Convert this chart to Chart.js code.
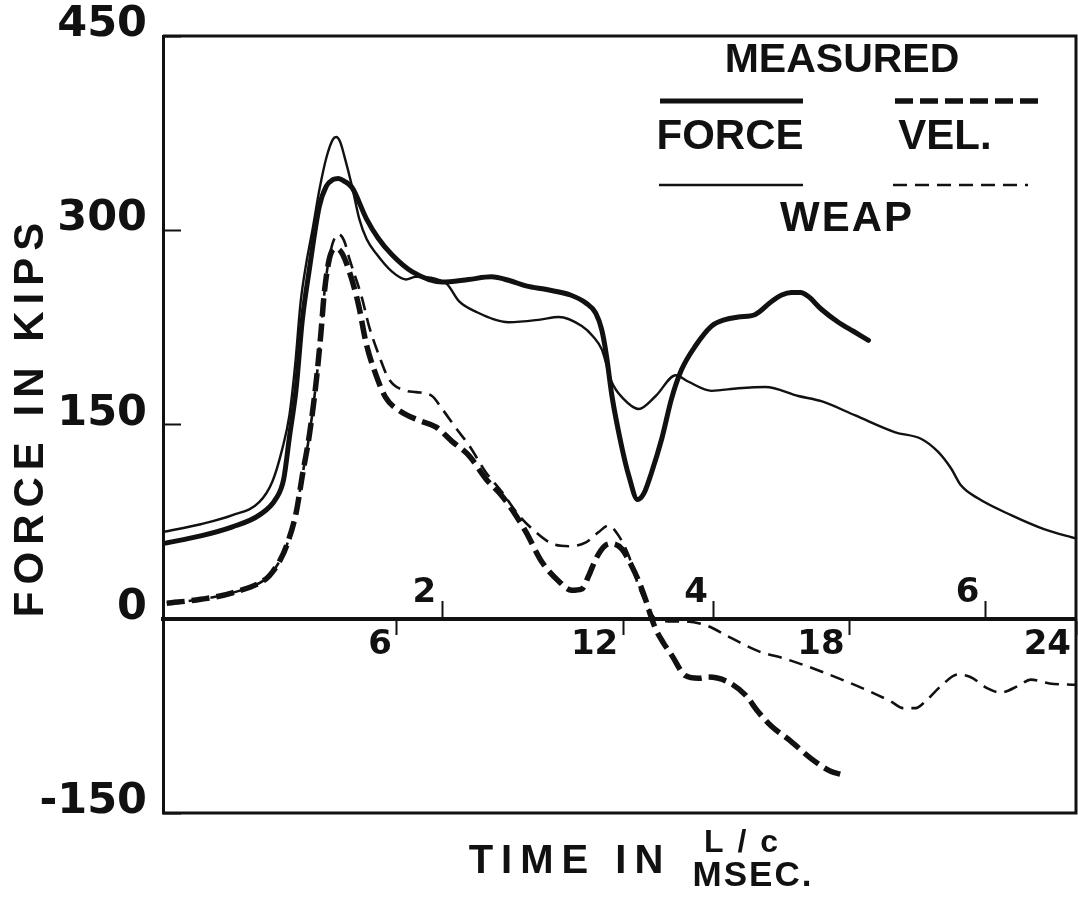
<!DOCTYPE html>
<html>
<head>
<meta charset="utf-8">
<title>Force and velocity vs time</title>
<script src="https://cdn.jsdelivr.net/npm/chart.js@4.4.1/dist/chart.umd.min.js"></script>
<style>
  html, body { margin: 0; padding: 0; background: #fff; }
  #wrap { width: 1078px; height: 918px; position: relative; }
</style>
</head>
<body>
<div id="wrap"><canvas id="grafico"></canvas></div>
<script>
// one L/c expressed in milliseconds
const MS_PER_LC = 3.6;
const X_MIN = -0.2;
const X_MAX = 24;

const yTicks = [-150, 0, 150, 300, 450];
const msTicks = [6, 12, 18, 24];
const lcTicks = [2, 4, 6];

// measured force (kips) against time (ms)
const forceMeasT = [-0.2, 0.8, 1.64, 2.35, 2.8, 3.0, 3.15, 3.33, 3.49, 3.68, 3.94, 4.13, 4.3, 4.45, 4.6, 4.81, 5.19, 5.5, 5.87, 6.4, 7.2, 7.9, 8.5, 9.0, 9.42, 10.0, 10.6, 11.0, 11.27, 11.43, 11.55, 11.7, 11.95, 12.15, 12.38, 12.55, 12.75, 13.02, 13.28, 13.54, 13.92, 14.34, 14.7, 15.05, 15.5, 15.93, 16.2, 16.46, 16.7, 16.9, 17.25, 17.7, 18.1, 18.5];
const forceMeas = [58, 64, 71, 80, 93, 108, 140, 178, 230, 270, 318, 334, 339, 340, 338, 333, 309, 294, 281, 268, 260, 262, 264, 261, 257, 254, 250, 244, 236, 223, 204, 172, 134, 110, 92, 97, 113, 139, 170, 192, 211, 226, 231, 233, 235, 245, 250, 252, 252, 249, 239, 229, 222, 215];

// WEAP force
const forceWeapT = [-0.2, 0.8, 1.64, 2.35, 2.7, 2.96, 3.15, 3.3, 3.45, 3.6, 3.76, 3.95, 4.13, 4.3, 4.39, 4.5, 4.6, 4.81, 5.0, 5.2, 5.45, 5.87, 6.24, 6.5, 7.3, 7.65, 8.1, 8.97, 9.8, 10.29, 10.9, 11.2, 11.43, 11.69, 12.0, 12.41, 12.86, 13.39, 13.73, 14.34, 15.05, 15.77, 16.64, 17.25, 18.15, 19.21, 19.89, 20.34, 20.69, 20.95, 21.4, 22.28, 23.17, 24];
const forceWeap = [67, 73, 80, 90, 106, 131, 157, 195, 245, 275, 300, 332, 356, 370, 372, 368, 358, 334, 309, 293, 282, 268, 262, 264, 259, 245, 237, 229, 231, 233, 226, 218, 208, 183, 170, 162, 172, 188, 183, 176, 178, 179, 172, 168, 157, 144, 139, 129, 116, 103, 93, 80, 69, 62];

// measured velocity (force units)
const velMeasT = [-0.1, 0.8, 1.64, 2.54, 2.7, 2.9, 3.07, 3.33, 3.49, 3.68, 3.86, 3.99, 4.07, 4.21, 4.39, 4.55, 4.74, 4.92, 5.0, 5.19, 5.4, 5.7, 6.1, 6.6, 7.04, 7.46, 7.91, 8.36, 8.78, 9.15, 9.42, 9.84, 10.29, 10.63, 10.9, 11.08, 11.27, 11.5, 11.69, 11.96, 12.22, 12.41, 12.59, 12.72, 12.86, 13.05, 13.28, 13.65, 14.0, 14.26, 14.79, 15.24, 15.58, 15.93, 16.46, 16.98, 17.51, 17.75];
const velMeas = [12, 15, 20, 31, 36, 45, 56, 82, 110, 142, 183, 222, 250, 278, 286, 282, 268, 250, 240, 212, 192, 171, 160, 153, 148, 137, 126, 108, 95, 80, 67, 44, 29, 22, 23, 33, 46, 56, 58, 54, 41, 29, 15, 3, -8, -18, -28, -44, -46, -45, -49, -59, -72, -83, -95, -108, -118, -120];

// WEAP velocity
const velWeapT = [-0.1, 0.8, 1.64, 2.54, 2.7, 2.9, 3.07, 3.33, 3.49, 3.68, 3.86, 3.99, 4.1, 4.25, 4.45, 4.6, 4.74, 5.08, 5.26, 5.53, 5.79, 6.24, 6.51, 6.93, 7.2, 7.57, 7.91, 8.36, 8.78, 9.23, 9.68, 10.11, 10.56, 11.01, 11.35, 11.61, 11.88, 12.14, 12.41, 12.67, 12.85, 13.2, 13.6, 14.18, 14.87, 15.58, 16.3, 17.09, 17.96, 18.6, 19.1, 19.42, 19.75, 20.0, 20.42, 20.87, 21.2, 21.67, 22.0, 22.46, 22.8, 23.3, 24];
const velWeap = [12, 15, 20, 31, 36, 45, 56, 82, 110, 142, 183, 222, 258, 285, 297, 292, 278, 247, 226, 203, 185, 176, 175, 172, 162, 147, 134, 113, 98, 80, 67, 58, 56, 59, 67, 72, 64, 49, 25, 8, 0, -2, -2, -5, -15, -25, -31, -39, -49, -57, -64, -69, -69, -64, -52, -43, -45, -54, -57, -52, -47, -50, -51];

const ink = '#111';
const textFont = '"Liberation Sans", Arial, sans-serif';

function pts(ts, vs) {
  return ts.map((t, i) => ({ x: t, y: vs[i] }));
}

function lineSet(label, ts, vs, width, dash) {
  return {
    label: label,
    data: pts(ts, vs),
    borderColor: ink,
    borderWidth: width,
    borderDash: dash,
    borderCapStyle: dash.length ? 'butt' : 'round',
    borderJoinStyle: 'round',
    pointRadius: 0,
    cubicInterpolationMode: 'monotone',
    fill: false
  };
}

// text with extra spacing between letters, centred on x
function spaced(ctx, str, x, y, font, spacing) {
  ctx.font = font;
  ctx.letterSpacing = '0px';
  const w = ctx.measureText(str).width + spacing * (str.length - 1);
  ctx.letterSpacing = spacing + 'px';
  ctx.textAlign = 'left';
  ctx.fillText(str, x - w / 2, y);
  ctx.letterSpacing = '0px';
}

function sample(ctx, ds, x1, x2, y) {
  ctx.save();
  ctx.strokeStyle = ds.borderColor;
  ctx.lineWidth = ds.borderWidth;
  ctx.setLineDash(ds.borderDash);
  ctx.beginPath();
  ctx.moveTo(x1, y);
  ctx.lineTo(x2, y);
  ctx.stroke();
  ctx.restore();
}

// top, right and bottom edges of the plot box
const frame = {
  id: 'frame',
  beforeDatasetsDraw(chart) {
    const { ctx, chartArea: a } = chart;
    ctx.save();
    ctx.strokeStyle = ink;
    ctx.lineWidth = 3;
    ctx.beginPath();
    ctx.moveTo(a.left, a.top);
    ctx.lineTo(a.right, a.top);
    ctx.lineTo(a.right, a.bottom);
    ctx.lineTo(a.left, a.bottom);
    ctx.stroke();
    ctx.restore();
  }
};

// axis titles and the boxed key
const labels = {
  id: 'labels',
  afterDraw(chart) {
    const ctx = chart.ctx;
    const ds = chart.data.datasets;
    ctx.save();
    ctx.fillStyle = ink;
    ctx.textBaseline = 'middle';

    ctx.save();
    ctx.translate(31, 420);
    ctx.rotate(-Math.PI / 2);
    spaced(ctx, 'FORCE IN KIPS', 0, 0, 'bold 42px ' + textFont, 7);
    ctx.restore();

    spaced(ctx, 'TIME IN', 566, 862, 'bold 40px ' + textFont, 8);
    spaced(ctx, 'L/c', 741, 843, 'bold 32px ' + textFont, 14);
    spaced(ctx, 'MSEC.', 752, 876, 'bold 35px ' + textFont, 2);

    spaced(ctx, 'MEASURED', 842, 61, 'bold 41px ' + textFont, 0);
    sample(ctx, ds[0], 660, 803, 101);
    sample(ctx, ds[2], 895, 1040, 101);
    spaced(ctx, 'FORCE', 730, 137, 'bold 42px ' + textFont, 0);
    spaced(ctx, 'VEL.', 945, 137, 'bold 42px ' + textFont, 0);
    sample(ctx, ds[1], 659, 803, 185);
    sample(ctx, ds[3], 893, 1028, 185);
    spaced(ctx, 'WEAP', 846, 219, 'bold 42px ' + textFont, 2);
    ctx.restore();
  }
};

const numFont = { family: 'DejaVu Sans', weight: 'bold', size: 34, lineHeight: 1 };

new Chart(document.getElementById('grafico'), {
  type: 'line',
  data: {
    datasets: [
      lineSet('Measured force', forceMeasT, forceMeas, 5, []),
      lineSet('WEAP force', forceWeapT, forceWeap, 2.4, []),
      lineSet('Measured velocity', velMeasT, velMeas, 5.5, [18, 7]),
      lineSet('WEAP velocity', velWeapT, velWeap, 2.6, [14, 8])
    ]
  },
  options: {
    responsive: true,
    maintainAspectRatio: false,
    animation: false,
    devicePixelRatio: 1,
    layout: { padding: { left: 0, right: 2, top: 36, bottom: 105 } },
    plugins: {
      legend: { display: false },
      tooltip: { enabled: false }
    },
    scales: {
      x: {
        type: 'linear',
        min: X_MIN,
        max: X_MAX,
        position: { y: 0 },
        afterBuildTicks: s => { s.ticks = msTicks.map(v => ({ value: v })); },
        grid: { drawOnChartArea: false, tickLength: 14, tickWidth: 2, tickColor: ink },
        border: { display: true, color: ink, width: 4 },
        ticks: { align: 'end', labelOffset: -5, padding: -5, color: ink, font: numFont, maxRotation: 0, autoSkip: false }
      },
      lc: {
        type: 'linear',
        axis: 'x',
        min: X_MIN / MS_PER_LC,
        max: X_MAX / MS_PER_LC,
        position: { y: 0 },
        afterBuildTicks: s => { s.ticks = lcTicks.map(v => ({ value: v })); },
        grid: { drawOnChartArea: false, tickLength: -18, tickWidth: 2, tickColor: ink },
        border: { display: false },
        ticks: { align: 'end', labelOffset: -6, padding: -25, color: ink, font: numFont, maxRotation: 0, autoSkip: false }
      },
      y: {
        type: 'linear',
        min: -150,
        max: 450,
        afterBuildTicks: s => { s.ticks = yTicks.map(v => ({ value: v })); },
        afterFit: s => {
          s.width = 163;
          // keep the tick labels from pushing the plot box down
          s.paddingTop = 0;
          s.paddingBottom = 0;
        },
        grid: { drawOnChartArea: false, tickLength: -18, tickWidth: 2, tickColor: ink },
        border: { color: ink, width: 3 },
        ticks: { padding: 34, labelOffset: -11, color: ink, font: { family: 'DejaVu Sans', weight: 'bold', size: 43, lineHeight: 1 } }
      }
    }
  },
  plugins: [frame, labels]
});
</script>
</body>
</html>
